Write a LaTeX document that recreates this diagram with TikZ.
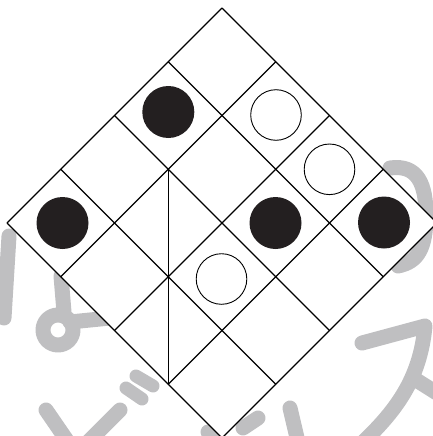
\documentclass[tikz,border=0pt]{standalone}
\definecolor{wm}{RGB}{191,191,193}
\definecolor{stoneblack}{RGB}{35,31,32}
\tikzset{
  wmark/.style={draw=wm, line width=15pt, line cap=round, line join=round},
  gridline/.style={draw=black, line width=1.1pt},
  blackstone/.style={fill=stoneblack},
  whitestone/.style={draw=black, line width=0.9pt, fill=white}
}
\begin{document}
\begin{tikzpicture}[x=1pt,y=-1pt]
\useasboundingbox (0,0) rectangle (433,436);
\clip (0,0) rectangle (433,436);
% watermark fragments (behind the board)
\draw[wmark] (9,236) -- (4,318);
\draw[wmark] (61,276) -- (64,312);
\draw[wmark] (58,330) circle (15);
\draw[wmark] (70,322) -- (110,318);
\draw[wmark] (390,168) .. controls (418,164) and (426,185) .. (426,215) .. controls (426,248) and (418,262) .. (398,266);
\draw[wmark] (46,410) -- (68,442);
\draw[wmark] (120,410) -- (88,442);
\draw[wmark, line width=13pt] (126,388) -- (142,399);
\draw[wmark, line width=13pt] (136,376) -- (153,386);
\draw[wmark] (208,432) -- (215,445);
\draw[wmark] (290,408) -- (298,442);
\draw[wmark] (243,428) -- (258,418);
\draw[wmark] (362,343) -- (425,326) .. controls (420,380) and (395,412) .. (360,445);
\draw[wmark] (413,378) -- (440,395);
% board
\coordinate (T) at (222,8);
\coordinate (R) at (437,223);
\coordinate (B) at (222,438);
\coordinate (L) at (7,223);
\fill[white] (T) -- (R) -- (B) -- (L) -- cycle;
\foreach \k in {0,...,4} {
  \draw[gridline] ({222+\k*53.75},{8+\k*53.75}) -- ({7+\k*53.75},{223+\k*53.75});
  \draw[gridline] ({222-\k*53.75},{8+\k*53.75}) -- ({437-\k*53.75},{223+\k*53.75});
}
\coordinate (V1) at (168.25,169.25);
\coordinate (V2) at (168.25,384);
\draw[gridline] (V1) -- (V2);
% stones
\fill[blackstone] (168.3,112) circle (26);
\fill[blackstone] (62.5,223) circle (26);
\fill[blackstone] (275.5,223) circle (26);
\fill[blackstone] (384,222.5) circle (26);
\draw[whitestone] (276,115) circle (25.3);
\draw[whitestone] (329.5,169.3) circle (25.3);
\draw[whitestone] (221.5,279) circle (25.3);
\end{tikzpicture}
\end{document}
